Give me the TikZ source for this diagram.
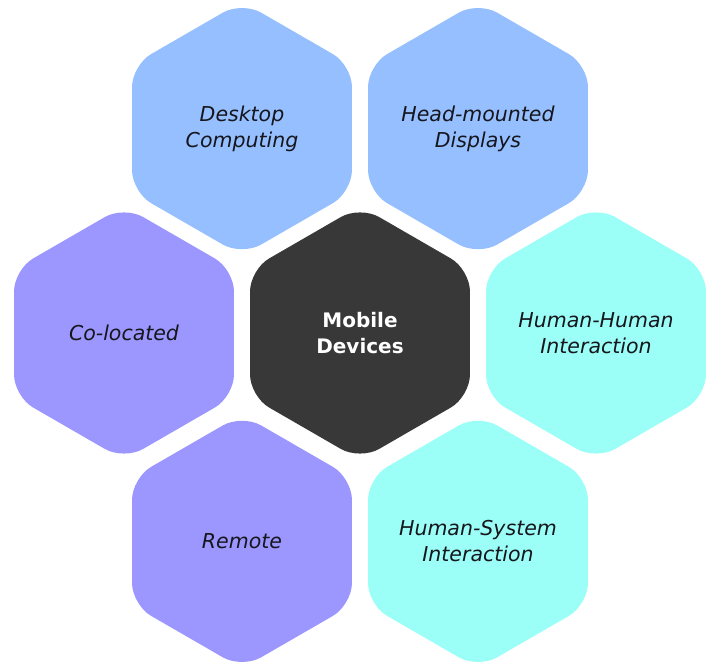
\documentclass[tikz,border=0pt]{standalone}
\usepackage{fontspec}
\setmainfont{DejaVu Sans}
\usepackage{xcolor}
\usetikzlibrary{shapes}
\definecolor{hexblue}{HTML}{95BFFF}
\definecolor{hexviolet}{HTML}{9C97FF}
\definecolor{hexcyan}{HTML}{9BFFF8}
\definecolor{hexdark}{HTML}{383838}
\definecolor{hextext}{HTML}{16161C}
\tikzstyle{hexa} = [regular polygon, regular polygon sides=6, shape border rotate=30,
    minimum size=254pt, inner sep=-40pt, rounded corners=22pt, align=center,
    text=hextext, font=\fontsize{20.5}{26}\selectfont\itshape]
\tikzstyle{hexcore} = [hexa, fill=hexdark, text=white, font=\fontsize{20}{26}\selectfont\bfseries]

\begin{document}
\begin{tikzpicture}[x=1pt,y=1pt]
  \useasboundingbox (-360,-330) rectangle (349,333);
      \node [hexcore] (mobile) at (0,0) {Mobile\\Devices};
      \node [hexa, fill=hexblue] (desktop) at (120:236) {Desktop\\Computing};
      \node [hexa, fill=hexblue] (hmd) at (60:236) {Head-mounted\\Displays};
      \node [hexa, fill=hexviolet] (coloc) at (180:236) {Co-located};
      \node [hexa, fill=hexviolet, yshift=-4pt] (remote) at (240:236) {Remote};
      \node [hexa, fill=hexcyan] (hhi) at (0:236) {Human-Human\\Interaction};
      \node [hexa, fill=hexcyan, yshift=-4pt] (hsi) at (300:236) {Human-System\\Interaction};
\end{tikzpicture}
\end{document}
